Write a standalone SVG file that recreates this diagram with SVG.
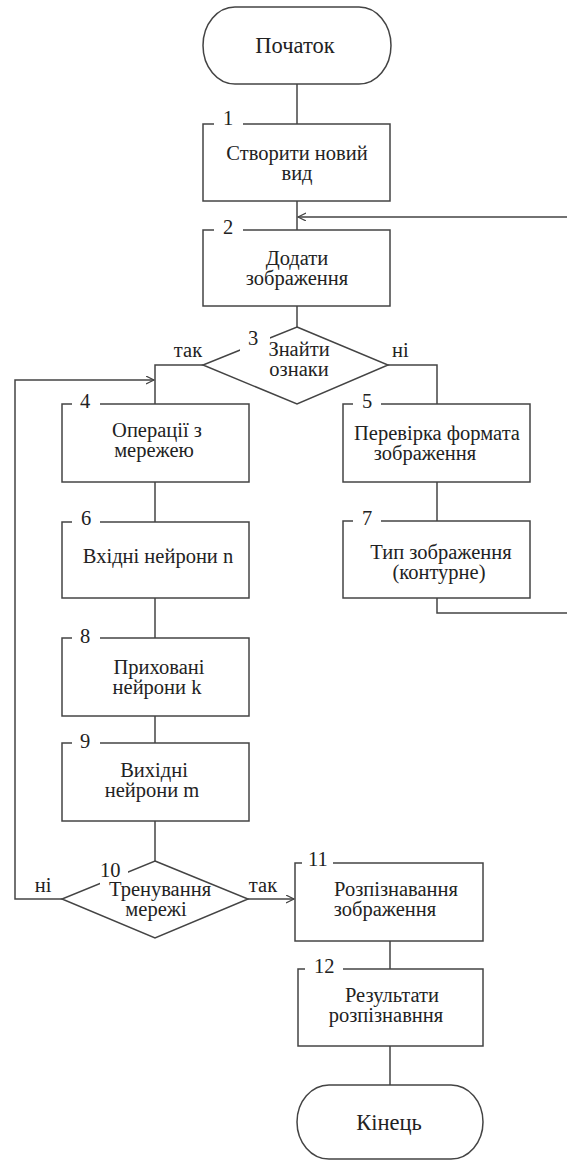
<svg xmlns="http://www.w3.org/2000/svg" width="567" height="1161" viewBox="0 0 567 1161">
<defs>
<style>
.s{fill:#fff;stroke:#444;stroke-width:1.5}
.m{fill:#fff;stroke:none}
text{font-family:'Liberation Serif','Times New Roman',serif;font-size:20.5px;fill:#222}
.t{text-anchor:middle}
.big{font-size:22.5px}
.c{fill:none;stroke:#444;stroke-width:1.5}
</style>
<marker id="ar" markerWidth="10" markerHeight="10" refX="8" refY="4" orient="auto" markerUnits="userSpaceOnUse">
<path d="M0,0 L8,4 L0,8" fill="none" stroke="#444" stroke-width="1.2"/>
</marker>
</defs>
<rect width="567" height="1161" fill="#fff"/>
<g id="connectors">
<path class="c" d="M297,84 V124"/>
<path class="c" d="M297,201 V230"/>
<path class="c" d="M297,306 V327"/>
<path class="c" d="M203,365 H155 V404"/>
<path class="c" d="M388,365 H437 V404"/>
<path class="c" d="M437,482 V521"/>
<path class="c" d="M437,598 V613 H569 V217 H298" marker-end="url(#ar)"/>
<path class="c" d="M155,482 V522"/>
<path class="c" d="M155,598 V638"/>
<path class="c" d="M155,716 V743"/>
<path class="c" d="M155,821 V861"/>
<path class="c" d="M62,899 H15 V380 H154" marker-end="url(#ar)"/>
<path class="c" d="M248,899 H294" marker-end="url(#ar)"/>
<path class="c" d="M390,941 V969"/>
<path class="c" d="M390,1046 V1085"/>
</g>
<g id="start">
<rect class="s" x="203" y="7" width="188" height="77" rx="32" ry="38.5"/>
<text class="t big" x="295" y="53">Початок</text>
</g>
<g id="n1">
<rect class="s" x="203" y="124" width="187" height="77"/>
<rect class="m" x="214" y="118" width="29" height="12"/>
<text x="223" y="125">1</text>
<text class="t" x="297" y="160">Створити новий</text>
<text class="t" x="297" y="180">вид</text>
</g>
<g id="n2">
<rect class="s" x="203" y="230" width="187" height="76"/>
<rect class="m" x="214" y="224" width="29" height="12"/>
<text x="223" y="234">2</text>
<text class="t" x="297" y="265">Додати</text>
<text class="t" x="297" y="285">зображення</text>
</g>
<g id="n3">
<polygon class="s" points="297,327 388,365 297,404 203,365"/>
<rect class="m" x="240" y="333" width="30" height="19"/>
<text x="248" y="345">3</text>
<text class="t" x="299" y="356">Знайти</text>
<text class="t" x="299" y="376">ознаки</text>
<text class="t" x="188" y="357">так</text>
<text x="392" y="357">ні</text>
</g>
<g id="n4">
<rect class="s" x="62" y="404" width="187" height="78"/>
<rect class="m" x="72" y="398" width="28" height="12"/>
<text x="80" y="408">4</text>
<text class="t" x="157" y="437">Операції з</text>
<text class="t" x="154" y="457">мережею</text>
</g>
<g id="n5">
<rect class="s" x="343" y="404" width="187" height="78"/>
<rect class="m" x="353" y="398" width="28" height="12"/>
<text x="362" y="408">5</text>
<text class="t" x="437" y="440">Перевірка формата</text>
<text class="t" x="425" y="460">зображення</text>
</g>
<g id="n6">
<rect class="s" x="62" y="522" width="187" height="76"/>
<rect class="m" x="72" y="516" width="28" height="12"/>
<text x="81" y="525">6</text>
<text class="t" x="158" y="563">Вхідні нейрони n</text>
</g>
<g id="n7">
<rect class="s" x="343" y="521" width="187" height="77"/>
<rect class="m" x="353" y="515" width="28" height="12"/>
<text x="362" y="525">7</text>
<text class="t" x="441" y="559">Тип зображення</text>
<text class="t" x="439" y="579">(контурне)</text>
</g>
<g id="n8">
<rect class="s" x="62" y="638" width="187" height="78"/>
<rect class="m" x="72" y="632" width="28" height="12"/>
<text x="80" y="643">8</text>
<text class="t" x="159" y="674">Приховані</text>
<text class="t" x="157" y="694">нейрони k</text>
</g>
<g id="n9">
<rect class="s" x="62" y="743" width="187" height="78"/>
<rect class="m" x="72" y="737" width="28" height="12"/>
<text x="80" y="748">9</text>
<text class="t" x="154" y="777">Вихідні</text>
<text class="t" x="152" y="797">нейрони m</text>
</g>
<g id="n10">
<polygon class="s" points="155,861 248,899 155,938 62,899"/>
<rect class="m" x="100" y="866" width="28" height="20"/>
<text x="100" y="877">10</text>
<text class="t" x="160" y="896">Тренування</text>
<text class="t" x="156" y="916">мережі</text>
<text class="t" x="43" y="892">ні</text>
<text class="t" x="263" y="892">так</text>
</g>
<g id="n11">
<rect class="s" x="295" y="863" width="188" height="78"/>
<rect class="m" x="302" y="857" width="31" height="12"/>
<text x="308" y="866">11</text>
<text class="t" x="396" y="896">Розпізнавання</text>
<text class="t" x="385" y="916">зображення</text>
</g>
<g id="n12">
<rect class="s" x="298" y="969" width="185" height="77"/>
<rect class="m" x="305" y="963" width="38" height="12"/>
<text x="314" y="973">12</text>
<text class="t" x="392" y="1002">Результати</text>
<text class="t" x="386" y="1022">розпізнавння</text>
</g>
<g id="end">
<rect class="s" x="297" y="1085" width="186" height="74" rx="32" ry="37"/>
<text class="t big" x="389" y="1130">Кінець</text>
</g>
</svg>
